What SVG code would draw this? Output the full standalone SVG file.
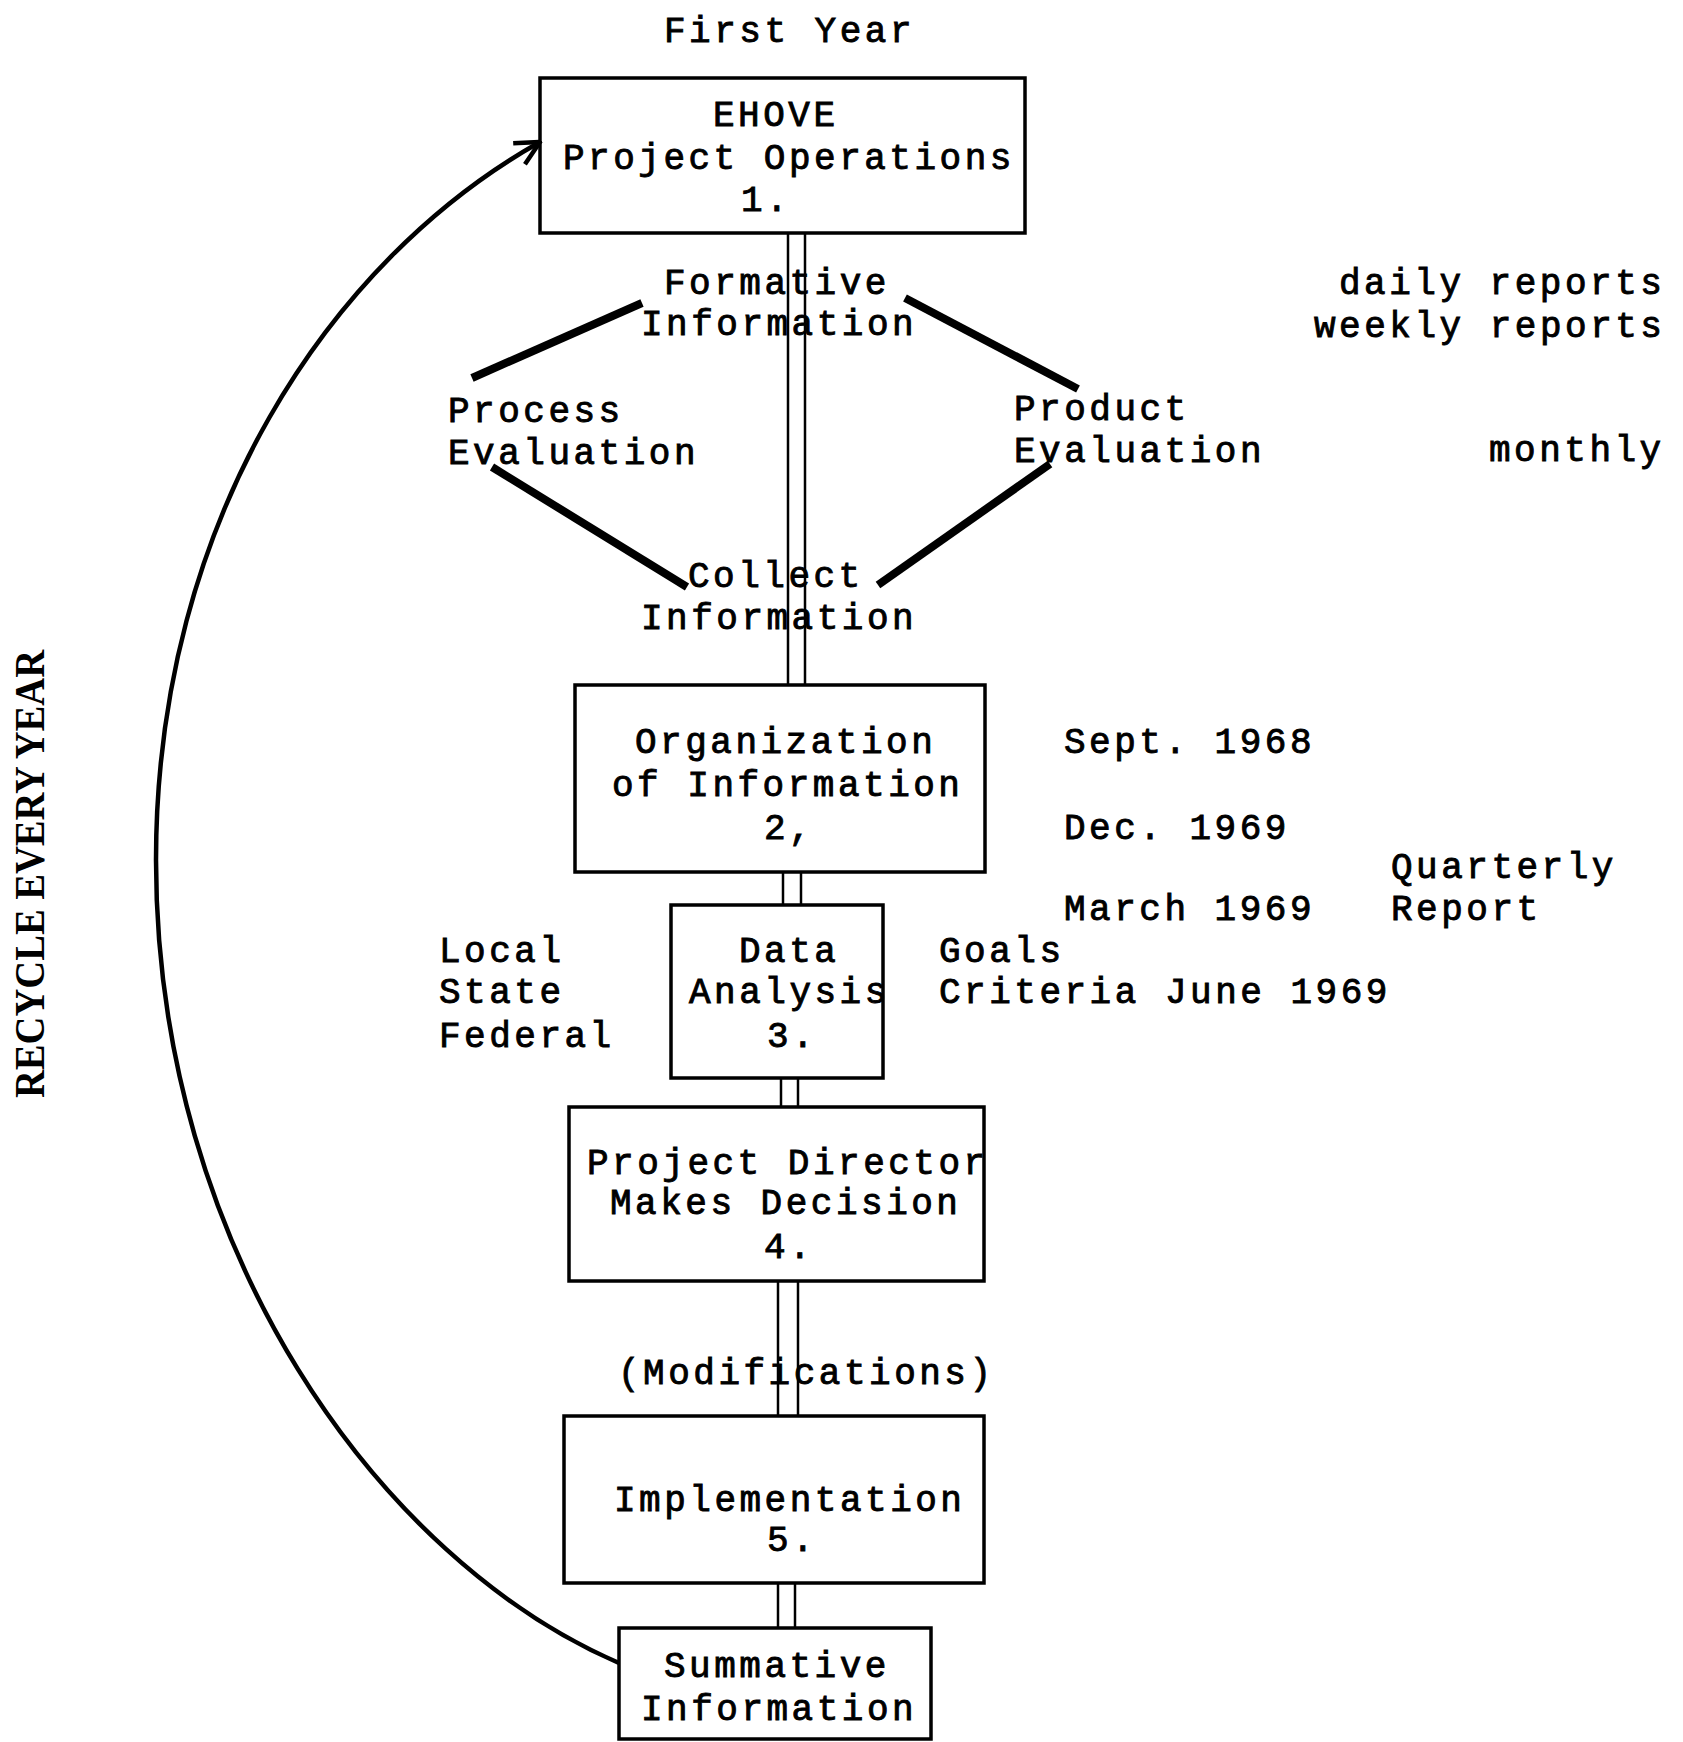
<svg xmlns="http://www.w3.org/2000/svg" width="1683" height="1742" viewBox="0 0 1683 1742">
<defs>
<style>
.t{font-family:"Liberation Mono","Courier New",monospace;font-size:36px;letter-spacing:3.5px;fill:#000;stroke:#000;stroke-width:0.9}
.box{fill:none;stroke:#000;stroke-width:3.5}
.dbl{stroke:#000;stroke-width:2.5}
.thick{stroke:#000;stroke-width:8;stroke-linecap:butt}
.curve{fill:none;stroke:#000;stroke-width:4.5}
</style>
<marker id="arr" viewBox="0 0 30 30" refX="28" refY="15" markerWidth="30" markerHeight="30" markerUnits="userSpaceOnUse" orient="auto">
<path d="M4 3 L28 15 L4 27" fill="none" stroke="#000" stroke-width="4.5"/>
</marker>
</defs>
<rect width="1683" height="1742" fill="#fff"/>

<text class="t" x="664" y="42">First Year</text>

<g id="connectors">
<line class="dbl" x1="788" y1="233" x2="788" y2="685"/>
<line class="dbl" x1="805" y1="233" x2="805" y2="685"/>
<line class="dbl" x1="783" y1="872" x2="783" y2="905"/>
<line class="dbl" x1="801" y1="872" x2="801" y2="905"/>
<line class="dbl" x1="781" y1="1078" x2="781" y2="1107"/>
<line class="dbl" x1="798" y1="1078" x2="798" y2="1107"/>
<line class="dbl" x1="778" y1="1281" x2="778" y2="1416"/>
<line class="dbl" x1="798" y1="1281" x2="798" y2="1416"/>
<line class="dbl" x1="778" y1="1583" x2="778" y2="1628"/>
<line class="dbl" x1="795" y1="1583" x2="795" y2="1628"/>
<line class="thick" x1="472" y1="378" x2="642" y2="303"/>
<line class="thick" x1="905" y1="298" x2="1078" y2="389"/>
<line class="thick" x1="492" y1="467" x2="687" y2="587"/>
<line class="thick" x1="1050" y1="464" x2="878" y2="585"/>
<path class="curve" d="M619 1663 C380 1560 156 1250 156 860 C156 520 330 260 540 142" marker-end="url(#arr)"/>
</g>

<g id="n1">
<rect class="box" x="540" y="78" width="485" height="155"/>
<text class="t" x="713" y="126">EHOVE</text>
<text class="t" x="563" y="169">Project Operations</text>
<text class="t" x="741" y="211">1.</text>
</g>

<g id="formative">
<text class="t" x="664" y="294">Formative</text>
<text class="t" x="641" y="335">Information</text>
</g>
<g id="process">
<text class="t" x="448" y="422">Process</text>
<text class="t" x="448" y="464">Evaluation</text>
</g>
<g id="product">
<text class="t" x="1014" y="420">Product</text>
<text class="t" x="1014" y="462">Evaluation</text>
</g>
<g id="collect">
<text class="t" x="688" y="587">Collect</text>
<text class="t" x="641" y="629">Information</text>
</g>
<g id="reports">
<text class="t" x="1339" y="294">daily reports</text>
<text class="t" x="1314" y="337">weekly reports</text>
<text class="t" x="1489" y="461">monthly</text>
</g>

<g id="n2">
<rect class="box" x="575" y="685" width="410" height="187"/>
<text class="t" x="635" y="753">Organization</text>
<text class="t" x="612" y="796">of Information</text>
<text class="t" x="764" y="839">2,</text>
</g>
<g id="dates">
<text class="t" x="1064" y="753">Sept. 1968</text>
<text class="t" x="1064" y="839">Dec. 1969</text>
<text class="t" x="1064" y="920">March 1969</text>
<text class="t" x="1391" y="878">Quarterly</text>
<text class="t" x="1391" y="920">Report</text>
</g>

<g id="n3">
<rect class="box" x="671" y="905" width="212" height="173"/>
<text class="t" x="739" y="962">Data</text>
<text class="t" x="689" y="1003">Analysis</text>
<text class="t" x="767" y="1047">3.</text>
</g>
<g id="levels">
<text class="t" x="439" y="962">Local</text>
<text class="t" x="439" y="1003">State</text>
<text class="t" x="439" y="1047">Federal</text>
</g>
<g id="goals">
<text class="t" x="939" y="962">Goals</text>
<text class="t" x="939" y="1003">Criteria June 1969</text>
</g>

<g id="n4">
<rect class="box" x="569" y="1107" width="415" height="174"/>
<text class="t" x="587" y="1174">Project Director</text>
<text class="t" x="610" y="1214">Makes Decision</text>
<text class="t" x="764" y="1258">4.</text>
</g>

<text class="t" x="618" y="1384">(Modifications)</text>

<g id="n5">
<rect class="box" x="564" y="1416" width="420" height="167"/>
<text class="t" x="614" y="1511">Implementation</text>
<text class="t" x="767" y="1551">5.</text>
</g>

<g id="n6">
<rect class="box" x="619" y="1628" width="312" height="111"/>
<text class="t" x="664" y="1677">Summative</text>
<text class="t" x="641" y="1720">Information</text>
</g>

<text x="44" y="874" transform="rotate(-90 44 874)" text-anchor="middle" font-family="Liberation Serif, serif" font-size="42" font-weight="bold" textLength="448" lengthAdjust="spacingAndGlyphs">RECYCLE EVERY YEAR</text>
</svg>
